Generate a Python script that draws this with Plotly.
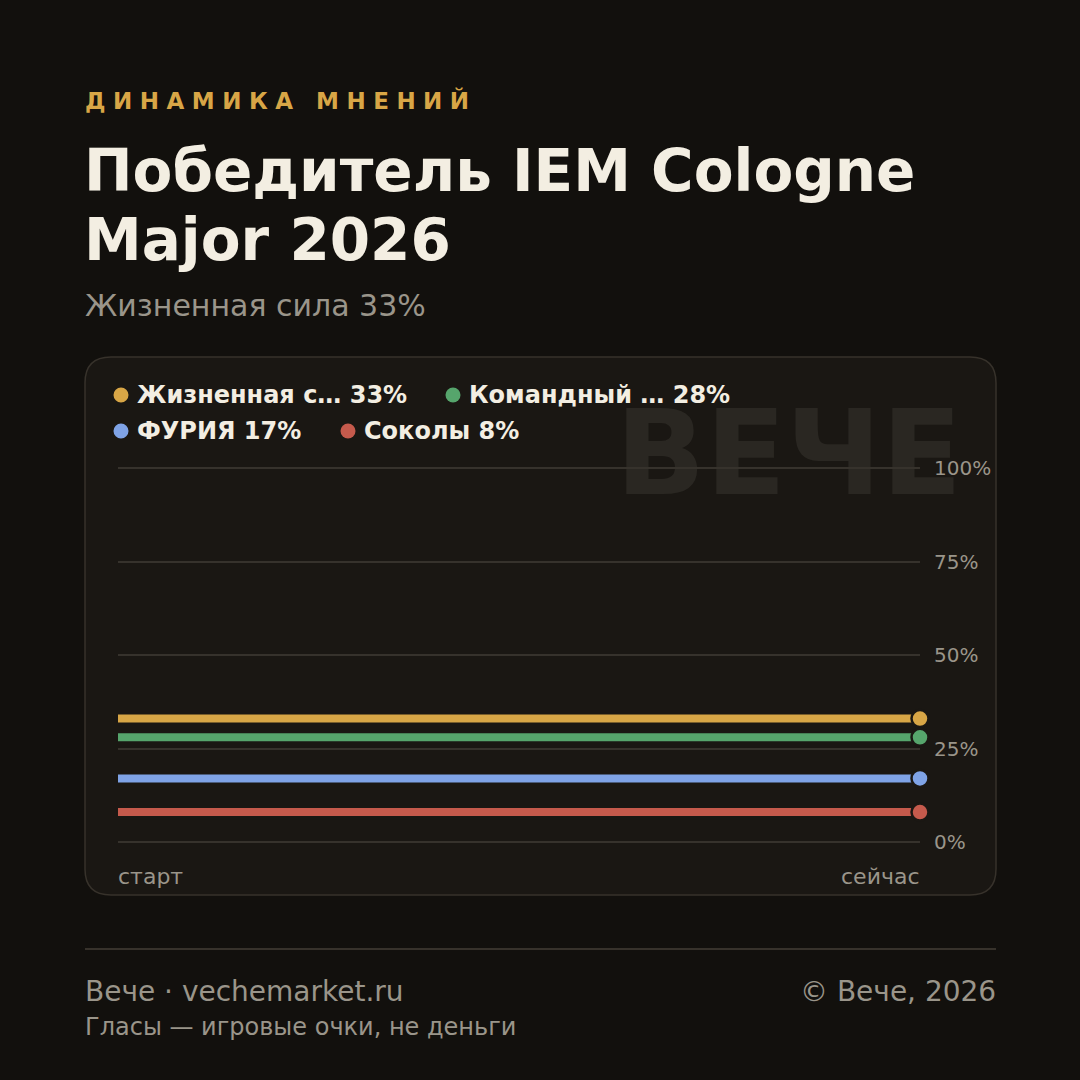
import plotly.graph_objects as go

# ---------------- data ----------------
points = ["старт", "сейчас"]
series_names = ["Жизненная сила", "Командный", "ФУРИЯ", "Соколы"]
legend_labels = ["Жизненная с…", "Командный …", "ФУРИЯ", "Соколы"]
start_values = [33, 28, 17, 8]
now_values = [33, 28, 17, 8]
y_ticks = [0, 25, 50, 75, 100]
y_tick_labels = ["0%", "25%", "50%", "75%", "100%"]

# ---------------- style ----------------
BG = "#12100d"
CARD = "#1a1713"
BORDER = "#37322b"
GRID = "#36322c"
CREAM = "#f3eee2"
MUTED = "#9a958a"
GOLD = "#d8a646"
WATERMARK = "#2a2722"
colors = ["#d8a646", "#56a56c", "#7fa3e6", "#c55a4c"]
FONT = "DejaVu Sans"

W = H = 1080
# pixel positions of 0% and 100%; plot area padded by 6px so edge gridlines are drawn
PL, PR = 118, 920
Y100, Y0 = 468, 842
PAD = 6
PT, PB = Y100 - PAD, Y0 + PAD
unit = (Y0 - Y100) / 100.0
pad_units = PAD / unit


def px(x):
    return (x - PL) / (PR - PL)


def py(y):
    return (PB - y) / (PB - PT)


fig = go.Figure()

xs = [0, 1]
for name, s, n, c in zip(series_names, start_values, now_values, colors):
    fig.add_trace(go.Scatter(
        x=xs, y=[s, n], mode="lines", name=name,
        line=dict(color=c, width=8), showlegend=False, hoverinfo="skip",
        cliponaxis=False,
    ))
for name, n, c in zip(series_names, now_values, colors):
    fig.add_trace(go.Scatter(
        x=[xs[-1]], y=[n], mode="markers", name=name,
        marker=dict(color=c, size=17, line=dict(color=CARD, width=2.5)),
        showlegend=False, hoverinfo="skip", cliponaxis=False,
    ))

# card with rounded corners
cx0, cx1, cy0, cy1, r = 85, 996, 357, 895, 26


def pt(x, y):
    return f"{px(x):.5f},{py(y):.5f}"


card_path = (
    f"M {pt(cx0 + r, cy0)} L {pt(cx1 - r, cy0)} Q {pt(cx1, cy0)} {pt(cx1, cy0 + r)} "
    f"L {pt(cx1, cy1 - r)} Q {pt(cx1, cy1)} {pt(cx1 - r, cy1)} "
    f"L {pt(cx0 + r, cy1)} Q {pt(cx0, cy1)} {pt(cx0, cy1 - r)} "
    f"L {pt(cx0, cy0 + r)} Q {pt(cx0, cy0)} {pt(cx0 + r, cy0)} Z"
)

shapes = [
    dict(type="path", xref="paper", yref="paper", path=card_path,
         fillcolor=CARD, line=dict(color=BORDER, width=1.5), layer="below"),
    dict(type="rect", xref="paper", yref="paper",
         x0=px(450), x1=px(965), y0=py(514), y1=py(376),
         line=dict(width=0), fillcolor="rgba(0,0,0,0)", layer="below",
         label=dict(text="<b>ВЕЧЕ</b>", textposition="middle right", padding=0,
                    font=dict(family=FONT, size=118, color=WATERMARK))),
    dict(type="line", xref="paper", yref="paper",
         x0=px(85), x1=px(996), y0=py(949), y1=py(949),
         line=dict(color=BORDER, width=2)),
]

# legend dots + labels
legend_slots = [(121, 395), (453, 395), (121, 431), (348, 431)]
annotations = []
for (lx, ly), lab, v, c in zip(legend_slots, legend_labels, now_values, colors):
    shapes.append(dict(type="circle", xref="paper", yref="paper",
                       x0=px(lx - 7.5), x1=px(lx + 7.5), y0=py(ly + 7.5), y1=py(ly - 7.5),
                       fillcolor=c, line=dict(width=0)))
    annotations.append(dict(xref="paper", yref="paper", x=px(lx + 15), y=py(ly),
                            xanchor="left", yanchor="middle", showarrow=False,
                            text=f"<b>{lab} {v}%</b>", borderpad=0,
                            font=dict(family=FONT, size=24, color=CREAM)))


def text(x, y, t, size, color, anchor="left"):
    annotations.append(dict(xref="paper", yref="paper", x=px(x), y=py(y),
                            xanchor=anchor, yanchor="middle", showarrow=False,
                            text=t, borderpad=0,
                            font=dict(family=FONT, size=size, color=color)))


text(84, 100, '<span style="letter-spacing:7.5px"><b>ДИНАМИКА МНЕНИЙ</b></span>', 23, GOLD)
text(83, 171, "<b>Победитель IEM Cologne</b>", 58, CREAM)
text(83, 240, "<b>Major 2026</b>", 58, CREAM)
text(84, 305, f"{series_names[0]} {now_values[0]}%", 30, MUTED)

# x labels
annotations.append(dict(xref="x", yref="paper", x=xs[0], y=py(876), xanchor="left",
                        yanchor="middle", showarrow=False, text=points[0], borderpad=0,
                        xshift=-1, font=dict(family=FONT, size=22, color=MUTED)))
annotations.append(dict(xref="x", yref="paper", x=xs[-1], y=py(876), xanchor="right",
                        yanchor="middle", showarrow=False, text=points[-1], borderpad=0,
                        xshift=1, font=dict(family=FONT, size=22, color=MUTED)))

# footer
text(84, 991, "Вече · vechemarket.ru", 28, MUTED)
text(997, 991, "© Вече, 2026", 28, MUTED, anchor="right")
text(84, 1027, "Гласы — игровые очки, не деньги", 24, MUTED)

fig.update_layout(
    width=W, height=H, autosize=False,
    margin=dict(l=PL, r=W - PR, t=PT, b=H - PB, pad=0),
    paper_bgcolor=BG, plot_bgcolor="rgba(0,0,0,0)",
    shapes=shapes, annotations=annotations,
    showlegend=False,
    font=dict(family=FONT, color=MUTED),
    xaxis=dict(range=[0, 1], showgrid=False, zeroline=False, showline=False,
               showticklabels=False, fixedrange=True),
    yaxis=dict(range=[-pad_units, 100 + pad_units], side="right", tickvals=y_ticks,
               ticktext=y_tick_labels,
               showgrid=True, gridcolor=GRID, gridwidth=2, zeroline=False,
               showline=False, ticks="", ticklabelstandoff=13,
               tickfont=dict(family=FONT, size=20, color=MUTED), fixedrange=True),
)

fig.write_html("out.html", config={"displayModeBar": False})
